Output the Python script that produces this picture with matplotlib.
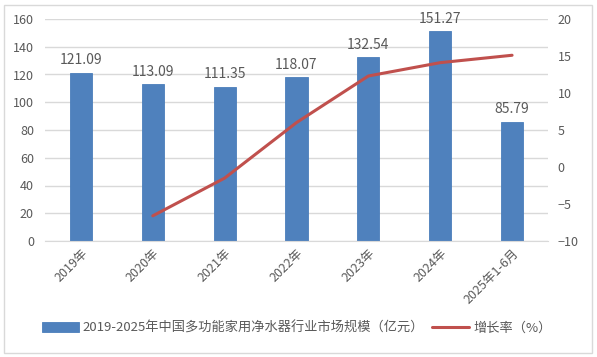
import matplotlib
matplotlib.use("Agg")
import matplotlib.pyplot as plt
from matplotlib.patches import Rectangle

plt.rcParams['font.family'] = ['Noto Sans CJK SC', 'DejaVu Sans']

categories = ["2019年", "2020年", "2021年", "2022年", "2023年", "2024年", "2025年1-6月"]
market_size = [121.09, 113.09, 111.35, 118.07, 132.54, 151.27, 85.79]
growth_cats = ["2020年", "2021年", "2022年", "2023年", "2024年", "2025年1-6月"]
growth_rate = [-6.6, -1.5, 6.0, 12.3, 14.1, 15.1]
left_ticks = [0, 20, 40, 60, 80, 100, 120, 140, 160]
right_ticks = [-10, -5, 0, 5, 10, 15, 20]
bar_label = "2019-2025年中国多功能家用净水器行业市场规模（亿元）"
line_label = "增长率（%）"

bar_color = "#4F81BD"
line_color = "#C0504D"
text_color = "#595959"
grid_color = "#D9D9D9"

fig = plt.figure(figsize=(5.97, 3.57), dpi=100)
fig.patches.append(Rectangle((0.006, 0.012), 0.986, 0.975, transform=fig.transFigure,
                             fill=False, edgecolor="#D9D9D9", linewidth=1.0))
ax = fig.add_axes([45/597, 1-241/357, (548-45)/597, (241-19)/357])
x = list(range(len(categories)))
ax.bar(x, market_size, width=0.31, color=bar_color, edgecolor="#4A7EBB", linewidth=0.6,
       label=bar_label, zorder=2)
for xi, v in zip(x, market_size):
    ax.text(xi, v + 4, f"{v:.2f}", ha="center", va="bottom", fontsize=10, color=text_color)
ax.set_xlim(-0.5, len(categories) - 0.5)
ax.set_ylim(0, 160)
ax.set_yticks(left_ticks)
ax.yaxis.grid(True, color=grid_color, linewidth=1.0)
ax.set_axisbelow(True)
for s in ["top", "right", "left"]:
    ax.spines[s].set_visible(False)
ax.spines["bottom"].set_color(grid_color)
ax.tick_params(axis="y", length=0, labelsize=9, labelcolor=text_color, pad=8)
ax.tick_params(axis="x", length=0, labelsize=9, labelcolor=text_color, pad=4)
ax.set_xticks(x)
ax.set_xticklabels(categories, rotation=45, ha="right", rotation_mode="anchor")

ax2 = ax.twinx()
gx = [categories.index(c) for c in growth_cats]
ax2.plot(gx, growth_rate, color=line_color, linewidth=2.2, label=line_label,
         solid_capstyle="round", zorder=3)
ax2.set_ylim(-10, 20)
ax2.set_yticks(right_ticks)
for s in ["top", "right", "left", "bottom"]:
    ax2.spines[s].set_visible(False)
ax2.tick_params(axis="y", length=0, labelsize=9, labelcolor=text_color, pad=7)

h1, l1 = ax.get_legend_handles_labels()
h2, l2 = ax2.get_legend_handles_labels()
fig.legend(h1 + h2, l1 + l2, loc="center", bbox_to_anchor=(0.497, 1-328/357), ncol=2,
           frameon=False, fontsize=9.5, labelcolor=text_color, handlelength=2.8,
           handleheight=0.8, columnspacing=0.6, handletextpad=0.3)

fig.savefig("out.png", dpi=100)
